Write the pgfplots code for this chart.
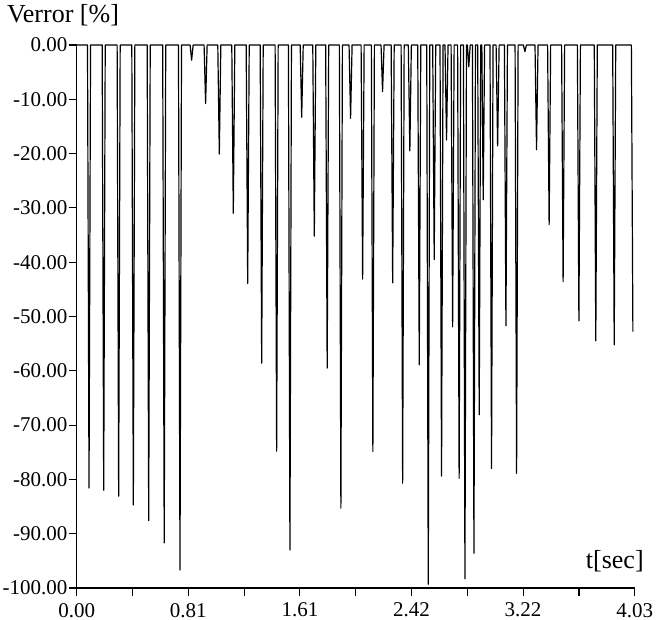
\documentclass[border=0pt]{standalone}
\usepackage{pgfplots}
\pgfplotsset{compat=1.18}
\usepackage{fontspec}
\setmainfont{Liberation Serif}

\begin{document}
\begin{tikzpicture}
\begin{axis}[
    scale only axis,
    width=279bp, height=271.5bp,
    xmin=0, xmax=4.03,
    ymin=-100, ymax=0,
    axis x line=bottom, axis y line=left,
    axis line style={-, line width=0.7pt},
    xtick={0,0.806,1.612,2.418,3.224,4.03},
    xticklabels={0.00,0.81,1.61,2.42,3.22,4.03},
    minor xtick={0.403,1.209,2.015,2.821,3.627},
    ytick={-100,-90,-80,-70,-60,-50,-40,-30,-20,-10,0},
    yticklabels={-100.00,-90.00,-80.00,-70.00,-60.00,-50.00,-40.00,-30.00,-20.00,-10.00,0.00},
    tick align=outside,
    major tick length=4bp, minor tick length=4bp,
    tick style={black, line width=0.6pt},
    tick label style={font=\fontsize{10.5bp}{12bp}\selectfont},
    yticklabel style={inner xsep=0.5bp},
    clip=false,
]
% voltage error spikes
\addplot[black, line width=0.6pt, line join=round] coordinates {
    (0,0)
    (0.078,0) (0.089,-81.6) (0.100,0)
    (0.184,0) (0.195,-82.0) (0.206,0)
    (0.292,0) (0.303,-83.1) (0.314,0)
    (0.398,0) (0.409,-84.7) (0.420,0)
    (0.509,0) (0.520,-87.6) (0.531,0)
    (0.621,0) (0.632,-91.7) (0.643,0)
    (0.735,0) (0.746,-96.7) (0.757,0)
    (0.819,0) (0.830,-2.8) (0.841,0)
    (0.920,0) (0.931,-10.8) (0.942,0)
    (1.019,0) (1.030,-20.1) (1.041,0)
    (1.120,0) (1.131,-31.0) (1.142,0)
    (1.224,0) (1.235,-43.9) (1.246,0)
    (1.325,0) (1.336,-58.6) (1.347,0)
    (1.433,0) (1.444,-74.8) (1.455,0)
    (1.529,0) (1.540,-93.0) (1.551,0)
    (1.614,0) (1.625,-13.3) (1.636,0)
    (1.705,0) (1.716,-35.2) (1.727,0)
    (1.798,0) (1.809,-59.5) (1.820,0)
    (1.897,0) (1.908,-85.3) (1.919,0)
    (1.967,0) (1.978,-13.5) (1.989,0)
    (2.054,0) (2.065,-43.1) (2.076,0)
    (2.128,0) (2.139,-74.9) (2.150,0)
    (2.198,0) (2.209,-8.6) (2.220,0)
    (2.271,0) (2.282,-43.8) (2.293,0)
    (2.343,0) (2.354,-80.7) (2.365,0)
    (2.395,0) (2.406,-19.5) (2.417,0)
    (2.463,0) (2.474,-58.9) (2.485,0)
    (2.528,0) (2.539,-99.3) (2.550,0)
    (2.571,0) (2.582,-39.5) (2.593,0)
    (2.624,0) (2.635,-79.4) (2.646,0)
    (2.660,0) (2.671,-17.5) (2.682,0)
    (2.704,0) (2.715,-51.9) (2.726,0)
    (2.751,0) (2.762,-79.8) (2.773,0)
    (2.793,0) (2.804,-98.3) (2.815,0)
    (2.822,0) (2.832,-4.0) (2.842,0)
    (2.858,0) (2.869,-93.6) (2.880,0)
    (2.896,0) (2.907,-68.1) (2.918,0)
    (2.926,0) (2.936,-28.5) (2.946,0)
    (2.985,0) (2.996,-78.0) (3.007,0)
    (3.029,0) (3.040,-18.6) (3.051,0)
    (3.089,0) (3.100,-51.7) (3.111,0)
    (3.166,0) (3.177,-78.9) (3.188,0)
    (3.226,0) (3.237,-1.2) (3.248,0)
    (3.310,0) (3.321,-19.3) (3.332,0)
    (3.401,0) (3.412,-33.1) (3.423,0)
    (3.502,0) (3.513,-43.6) (3.524,0)
    (3.616,0) (3.627,-50.8) (3.638,0)
    (3.738,0) (3.749,-54.5) (3.760,0)
    (3.871,0) (3.882,-55.2) (3.893,0)
    (4.006,0) (4.017,-52.8)
};
\end{axis}
\node[anchor=base west, font=\fontsize{13bp}{15bp}\selectfont]
    at ([shift={(-38.35bp,11bp)}]current axis.north west) {Verror [\%]};
\node[anchor=base east, font=\fontsize{13bp}{15bp}\selectfont]
    at ([shift={(8bp,10bp)}]current axis.south east) {t[sec]};
\pgfresetboundingbox
\path[use as bounding box] ([shift={(-38.35bp,-16bp)}]current axis.south west)
    rectangle ([shift={(11.15bp,22.5bp)}]current axis.north east);
\end{tikzpicture}
\end{document}
